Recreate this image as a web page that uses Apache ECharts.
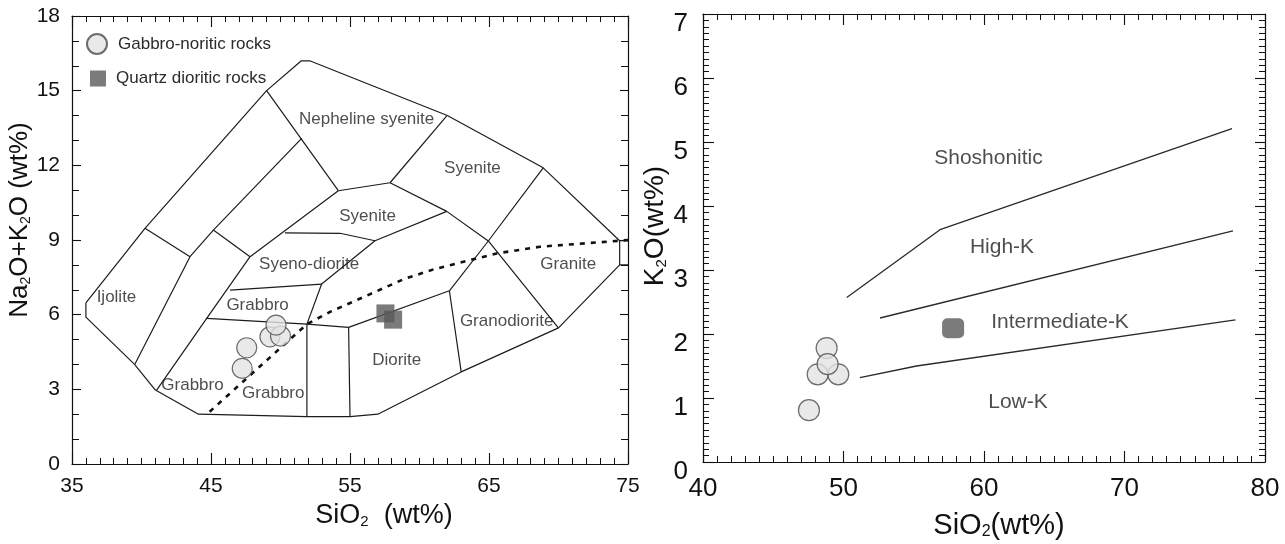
<!DOCTYPE html>
<html>
<head>
<meta charset="utf-8">
<script src="https://cdn.jsdelivr.net/npm/echarts@6/dist/echarts.min.js"></script>
<style>
  html, body { margin: 0; padding: 0; background: #fff; }
  #chart { width: 1285px; height: 544px; }
</style>
</head>
<body>
<div id="chart"></div>
<script>
// ---------- left panel: TAS diagram (plutonic fields) ----------
const gabbroTAS = [[47.57, 4.67], [47.25, 3.84], [49.24, 5.11], [50.0, 5.14], [49.68, 5.58]];
const qdioriteTAS = [[57.55, 6.05], [58.1, 5.8]];

// field boundaries, one polyline each
const tasBoundaries = [
  // outer envelope
  [[36.0, 6.47], [40.25, 9.47], [49.0, 15.0], [51.5, 16.2], [52.1, 16.2], [62.0, 14.0], [68.9, 11.9],
   [74.4, 8.97], [74.4, 8.0], [70.0, 5.47], [63.0, 3.7], [57.0, 2.0], [55.0, 1.9], [51.9, 1.9],
   [44.1, 2.0], [41.0, 2.97], [39.5, 4.0], [36.0, 5.9], [36.0, 6.47]],
  [[74.4, 8.97], [75.0, 8.97]],
  [[74.4, 8.0], [75.0, 8.0]],
  [[40.25, 9.47], [43.49, 8.33]],
  [[51.52, 13.08], [45.17, 9.4], [43.49, 8.33], [39.53, 4.02]],
  [[49.0, 15.0], [54.16, 10.98]],
  [[54.16, 10.98], [57.88, 11.3], [61.96, 13.99]],
  [[54.16, 10.98], [47.81, 8.33], [44.69, 5.85], [41.09, 2.97]],
  [[45.17, 9.4], [47.81, 8.33]],
  [[50.32, 9.29], [54.28, 9.27], [56.8, 8.97]],
  [[56.8, 8.97], [61.96, 10.15]],
  [[57.88, 11.3], [61.96, 10.15], [64.95, 8.96], [69.99, 5.47]],
  [[68.9, 11.9], [64.95, 8.96], [62.15, 6.96]],
  [[54.9, 5.49], [62.15, 6.96], [63.0, 3.7]],
  [[44.69, 5.85], [51.9, 5.62], [54.9, 5.49]],
  [[51.9, 5.62], [51.9, 1.9]],
  [[54.9, 5.49], [55.0, 1.9]],
  [[46.37, 6.99], [52.96, 7.23]],
  [[51.9, 5.62], [52.96, 7.23], [56.8, 8.97]]
];

// alkaline / subalkaline divider (dotted)
const tasDivider = [[44.9, 2.1], [51.9, 5.62], [53.6, 6.12], [55.5, 6.59], [58.84, 7.42],
                    [61.0, 7.82], [65.55, 8.46], [68.67, 8.73], [74.4, 8.97], [75.0, 9.0]];

const tasFieldLabels = [
  [38.2, 6.7, 'Ijolite'],
  [48.35, 6.39, 'Grabbro'],
  [43.67, 3.17, 'Grabbro'],
  [49.48, 2.86, 'Grabbro'],
  [52.06, 8.02, 'Syeno-diorite'],
  [56.26, 9.96, 'Syenite'],
  [56.19, 13.86, 'Nepheline syenite'],
  [63.81, 11.9, 'Syenite'],
  [70.7, 8.03, 'Granite'],
  [66.27, 5.74, 'Granodiorite'],
  [58.36, 4.18, 'Diorite']
];

// ---------- right panel: K2O vs SiO2 ----------
const gabbroK = [[48.8, 1.78], [48.16, 1.37], [49.63, 1.37], [48.87, 1.53], [47.54, 0.81]];
const qdioriteK = [[57.8, 2.09]];

const kBoundaries = [
  [[50.23, 2.57], [56.87, 3.63], [77.65, 5.21]],
  [[52.6, 2.25], [77.72, 3.61]],
  [[51.17, 1.32], [55.2, 1.5], [77.9, 2.22]]
];

const kFieldLabels = [
  [60.32, 4.75, 'Shoshonitic'],
  [61.28, 3.36, 'High-K'],
  [65.41, 2.19, 'Intermediate-K'],
  [62.42, 0.94, 'Low-K']
];

const GABBRO = 'Gabbro-noritic rocks';
const QDIOR = 'Quartz dioritic rocks';
const FONT = 'Arial, "Liberation Sans", sans-serif';
const INK = '#111';
const LINE = '#1c1c1c';

function polyline(pts, xi, yi, style) {
  return {
    type: 'line', xAxisIndex: xi, yAxisIndex: yi, data: pts,
    symbol: 'none', silent: true, z: 2,
    lineStyle: Object.assign({ color: LINE, width: 1.2 }, style || {})
  };
}

function fieldText(list, xi, yi, size) {
  return {
    type: 'scatter', xAxisIndex: xi, yAxisIndex: yi, silent: true, z: 3,
    symbolSize: 1, itemStyle: { color: 'rgba(0,0,0,0)' },
    data: list.map(d => ({ value: [d[0], d[1]], name: d[2] })),
    label: { show: true, position: 'inside', formatter: '{b}', fontSize: size, color: '#222', fontFamily: FONT }
  };
}

function frameAxis(grid, pos, min, max, interval, minorSplit, tickLen, minorLen) {
  return {
    type: 'value', gridIndex: grid, position: pos, min: min, max: max, interval: interval,
    axisLine: { show: true, onZero: false, lineStyle: { color: INK, width: 1.2 } },
    axisTick: { show: true, inside: true, length: tickLen, lineStyle: { color: INK, width: 1.1 } },
    minorTick: { show: true, splitNumber: minorSplit, length: minorLen, lineStyle: { color: INK, width: 1 } },
    axisLabel: { show: false },
    splitLine: { show: false }, minorSplitLine: { show: false }
  };
}

const subRich = (size) => ({ s: { fontSize: size, verticalAlign: 'bottom', fontFamily: FONT, color: INK } });

// left panel axes
const lx = frameAxis(0, 'bottom', 35, 75, 10, 10, 11, 6);
lx.axisLabel = { show: true, fontSize: 21, color: INK, margin: 12, fontFamily: FONT };
lx.name = 'SiO{s|2}  (wt%)';
lx.nameLocation = 'middle';
lx.nameGap = 33;
lx.nameTextStyle = { fontSize: 27, color: INK, fontFamily: FONT, padding: [0, 0, 0, 68], rich: subRich(15) };
const lxTop = frameAxis(0, 'top', 35, 75, 10, 10, 11, 6);

const ly = frameAxis(0, 'left', 0, 18, 3, 3, 9, 7);
ly.axisLabel = { show: true, fontSize: 21, color: INK, margin: 12, fontFamily: FONT };
ly.name = 'Na{s|2}O+K{s|2}O (wt%)';
ly.nameLocation = 'middle';
ly.nameGap = 37;
ly.nameTextStyle = { fontSize: 26, color: INK, fontFamily: FONT, padding: [0, 0, 0, 40], rich: subRich(14) };
const lyRight = frameAxis(0, 'right', 0, 18, 3, 3, 8, 7);

// right panel axes
const rx = frameAxis(1, 'bottom', 40, 80, 10, 10, 11, 6);
rx.axisLabel = { show: true, fontSize: 26, color: INK, margin: 14, fontFamily: FONT };
rx.name = 'SiO{s|2}(wt%)';
rx.nameLocation = 'middle';
rx.nameGap = 49;
rx.nameTextStyle = { fontSize: 29, color: INK, fontFamily: FONT, padding: [0, 0, 0, 30], rich: subRich(16) };
const rxTop = frameAxis(1, 'top', 40, 80, 10, 10, 11, 6);

const ry = frameAxis(1, 'left', 0, 7, 1, 10, 11, 6);
ry.axisLabel = { show: true, fontSize: 26, color: INK, margin: 15, fontFamily: FONT, verticalAlign: 'top', lineHeight: 20 };
ry.name = 'K{s|2}O(wt%)';
ry.nameLocation = 'middle';
ry.nameGap = 28;
ry.nameTextStyle = { fontSize: 28, color: INK, fontFamily: FONT, padding: [0, 0, 0, 24], rich: subRich(15) };
const ryRight = frameAxis(1, 'right', 0, 7, 1, 10, 10, 6);

const circleStyle = { color: '#e3e3e3', borderColor: '#4a4a4a', borderWidth: 1.2 };
const squareStyle = { color: '#5a5a5a' };

const series = [];
tasBoundaries.forEach(p => series.push(polyline(p, 0, 0)));
series.push(polyline(tasDivider, 0, 0, { type: [5, 6], width: 2.6, color: '#111' }));
series.push(fieldText(tasFieldLabels, 0, 0, 17));
series.push({
  name: GABBRO, type: 'scatter', xAxisIndex: 0, yAxisIndex: 0, z: 5,
  symbol: 'circle', symbolSize: 20, itemStyle: circleStyle, data: gabbroTAS
});
series.push({
  name: QDIOR, type: 'scatter', xAxisIndex: 0, yAxisIndex: 0, z: 5,
  symbol: 'rect', symbolSize: 18, itemStyle: squareStyle, data: qdioriteTAS
});

kBoundaries.forEach(p => series.push(polyline(p, 2, 2, { color: '#2a2a2a', width: 1.3 })));
series.push(fieldText(kFieldLabels, 2, 2, 21));
series.push({
  name: GABBRO, type: 'scatter', xAxisIndex: 2, yAxisIndex: 2, z: 5,
  symbol: 'circle', symbolSize: 21, itemStyle: circleStyle, data: gabbroK
});
series.push({
  name: QDIOR, type: 'scatter', xAxisIndex: 2, yAxisIndex: 2, z: 5,
  symbol: 'roundRect', symbolSize: [22, 20], itemStyle: squareStyle, data: qdioriteK
});

const chart = echarts.init(document.getElementById('chart'), null, { renderer: 'canvas' });
chart.setOption({
  backgroundColor: '#fff',
  animation: false,
  textStyle: { fontFamily: FONT },
  grid: [
    { left: 72, top: 16, width: 556, height: 448, outerBoundsMode: 'none', containLabel: false },
    { left: 703, top: 14, width: 562, height: 448, outerBoundsMode: 'none', containLabel: false }
  ],
  legend: [
    {
      data: [{ name: GABBRO, icon: 'circle' }], orient: 'vertical', left: 81, top: 28,
      itemWidth: 20, itemHeight: 20, selectedMode: false,
      textStyle: { fontSize: 17, color: '#2b2b2b', fontFamily: FONT, padding: [0, 0, 0, 6] }
    },
    {
      data: [{ name: QDIOR, icon: 'rect' }], orient: 'vertical', left: 85, top: 65,
      itemWidth: 16, itemHeight: 16, selectedMode: false,
      textStyle: { fontSize: 17, color: '#2b2b2b', fontFamily: FONT, padding: [0, 0, 0, 5] }
    }
  ],
  xAxis: [lx, lxTop, rx, rxTop],
  yAxis: [ly, lyRight, ry, ryRight],
  series: series
});
</script>
</body>
</html>
